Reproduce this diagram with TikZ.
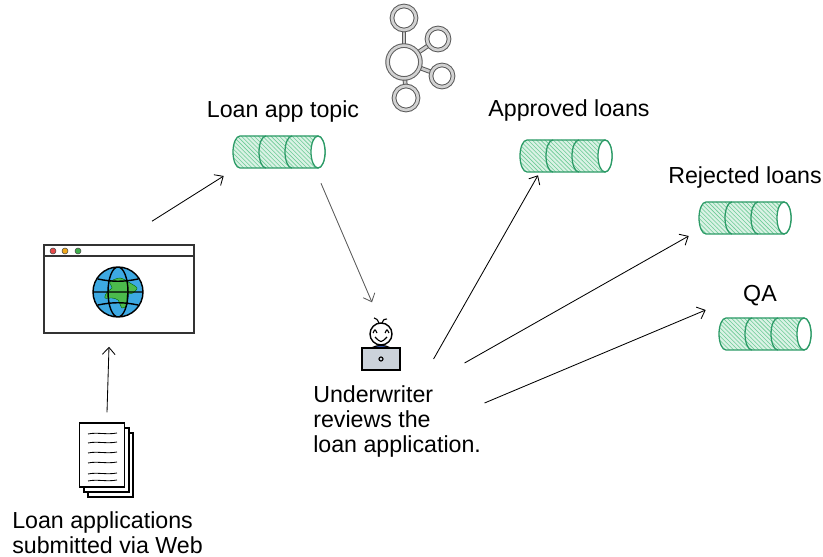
\documentclass[tikz,border=0pt]{standalone}
\usepackage{fontspec}
\setmainfont{Liberation Sans}
\usetikzlibrary{arrows.meta,calc,patterns}

\definecolor{topicgreen}{HTML}{2B9A66}
\definecolor{hatchgreen}{HTML}{6CCB96}
\definecolor{globeblue}{HTML}{3DA9E3}
\definecolor{landgreen}{HTML}{4CBB4C}
\definecolor{shirtblue}{HTML}{3F63C4}
\definecolor{laptopgray}{HTML}{CBD2DA}
\definecolor{dotred}{HTML}{E84A4A}
\definecolor{dotorange}{HTML}{F0A81A}
\definecolor{dotgreen}{HTML}{3DAE4A}

% a topic drawn as a three-segment cylinder around a named node
\newcommand{\topiccyl}[2]{%
  \node[topicbox] (#1) at (#2) {};
  \begin{scope}[shift={(#2)}]
    \path[topicbody] (39,-16) -- (-39,-16)
      arc[start angle=-90, end angle=-270, x radius=7, y radius=16]
      -- (39,16) arc[start angle=90, end angle=-90, x radius=7, y radius=16] -- cycle;
    \foreach \sx in {-13,13}
      \draw[topicline] (\sx,-16) arc[start angle=-90, end angle=-270, x radius=7, y radius=16];
    \draw[topicline, fill=white] (39,0) ellipse[x radius=7, y radius=16];
  \end{scope}}

\begin{document}
\begin{tikzpicture}[
    x=0.025cm, y=-0.025cm,
    lbl/.style={font=\fontsize{16.5}{18}\selectfont, inner sep=0pt},
    topicbox/.style={rectangle, minimum width=2.3cm, minimum height=0.8cm, inner sep=0pt},
    topicbody/.style={draw=topicgreen, line width=0.9pt, preaction={fill=hatchgreen!25},
      pattern=north west lines, pattern color=hatchgreen},
    topicline/.style={draw=topicgreen, line width=0.9pt},
    broker/.style={circle, draw=gray!70!black, double=gray!35, double distance=1.9pt,
      line width=0.7pt, fill=white, inner sep=0pt},
    brokerlink/.style={draw=gray!70!black, double=gray!40, double distance=1.9pt, line width=0.7pt},
    window/.style={draw=black!80, line width=1.1pt, fill=white, inner sep=0pt},
    page/.style={draw=black, line width=0.8pt, fill=white},
    arrow/.style={-{Straight Barb[length=5pt,width=9pt]}, line width=0.6pt}
  ]
  \useasboundingbox (0,0) rectangle (823,557);

  % broker cluster
  \foreach \bx/\by in {404/18, 438/39, 442/76, 406/98}
    \draw[brokerlink] (404,62) -- (\bx,\by);
  \node[broker, minimum size=0.82cm] (hub) at (404,62) {};
  \foreach \bx/\by/\bs [count=\i] in {404/18/0.6cm, 438/39/0.55cm, 442/76/0.55cm, 406/98/0.6cm}
    \node[broker, minimum size=\bs] (broker\i) at (\bx,\by) {};

  % topics
  \topiccyl{apptopic}{279,152}
  \topiccyl{approved}{566,156}
  \topiccyl{rejected}{745,218}
  \topiccyl{qa}{765,334}

  \node[lbl, anchor=base] (apptopiclbl) at (283,118) {Loan app topic};
  \node[lbl, anchor=base] (approvedlbl) at (569,117) {Approved loans};
  \node[lbl, anchor=base] (rejectedlbl) at (745,184) {Rejected loans};
  \node[lbl, anchor=base] (qalbl) at (760,302) {QA};

  % browser window with globe
  \node[window, minimum width=3.75cm, minimum height=2.2cm] (browser) at (119,289) {};
  \draw[black!80, line width=1.1pt] ($(browser.north west)+(0,12)$) -- ($(browser.north east)+(0,12)$);
  \foreach \dx/\col in {53/dotred, 65/dotorange, 78/dotgreen}
    \filldraw[fill=\col, draw=black!70, line width=0.4pt] (\dx,251) circle[radius=3];
  \fill[globeblue] (118,292) circle[radius=25];
  \filldraw[fill=landgreen, draw=green!40!black, line width=0.3pt] plot[smooth cycle] coordinates
    {(110,282) (120,278) (130,283) (137,288) (133,293) (127,295) (127,305) (122,308)
     (118,300) (112,298) (105,298) (107,292) (112,288)};
  \draw[line width=1pt] (118,292) circle[radius=25]
    (118,292) ellipse[x radius=10, y radius=25]
    (93,292) -- (143,292)
    (98,279) .. controls (112,282) and (124,282) .. (138,279)
    (98,305) .. controls (112,302) and (124,302) .. (138,305);

  % stack of application forms
  \draw[page] (88,433) rectangle (133,497);
  \draw[page] (84,428) rectangle (129,492);
  \node[page, minimum width=1.125cm, minimum height=1.6cm, inner sep=0pt] (docs) at (102,455) {};
  \foreach \ly in {434,443,453,463,474,481}
    \draw[line width=0.6pt] (88,\ly) .. controls (97,\ly-2) and (107,\ly+1) .. (117,\ly-1);
  \node[lbl, align=left, anchor=north west] (docslbl) at (12,511) {Loan applications\\submitted via Web};

  % underwriter at a laptop
  \filldraw[fill=shirtblue, draw=black, line width=0.8pt]
    (365,359) .. controls (366,341) and (396,341) .. (397,359) -- cycle;
  \node[circle, draw, fill=white, line width=1pt, minimum size=0.55cm, inner sep=0pt] (writer) at (381,334) {};
  \draw[line width=0.8pt] (373,333) .. controls (375,329) .. (377,333)
    (385,333) .. controls (387,329) .. (389,333)
    (375,337) .. controls (381,343) .. (387,337)
    (379,323) .. controls (377,319) .. (374,318) (382,323) .. controls (384,319) .. (387,319);
  \node[draw, fill=laptopgray, line width=0.8pt, minimum width=0.95cm, minimum height=0.55cm, inner sep=0pt] (laptop) at (381,359) {};
  \draw[line width=0.8pt] (laptop.center) circle[radius=2];
  \node[lbl, align=left, anchor=north west] (writerlbl) at (313,385) {Underwriter\\reviews the\\loan application.};

  % flow
  \draw[arrow] ($(docs.north)+(5,-10)$) -- ($(browser.south)+(-10,13)$);
  \draw[arrow] ($(browser.north)+(33,-23)$) -- ($(apptopic.west)+(-9,24)$);
  \draw[arrow, gray!70!black] ($(apptopic.south)+(42,15)$) -- ($(writer.north)+(-9,-20)$);
  \draw[arrow] ($(laptop.east)+(33,0)$) -- ($(approved.south)+(-28,3)$);
  \draw[arrow] ($(laptop.east)+(64,4)$) -- ($(rejected.west)+(-10,18)$);
  \draw[arrow] ($(laptop.east)+(84,44)$) -- ($(qa.west)+(-13,-24)$);
\end{tikzpicture}
\end{document}
